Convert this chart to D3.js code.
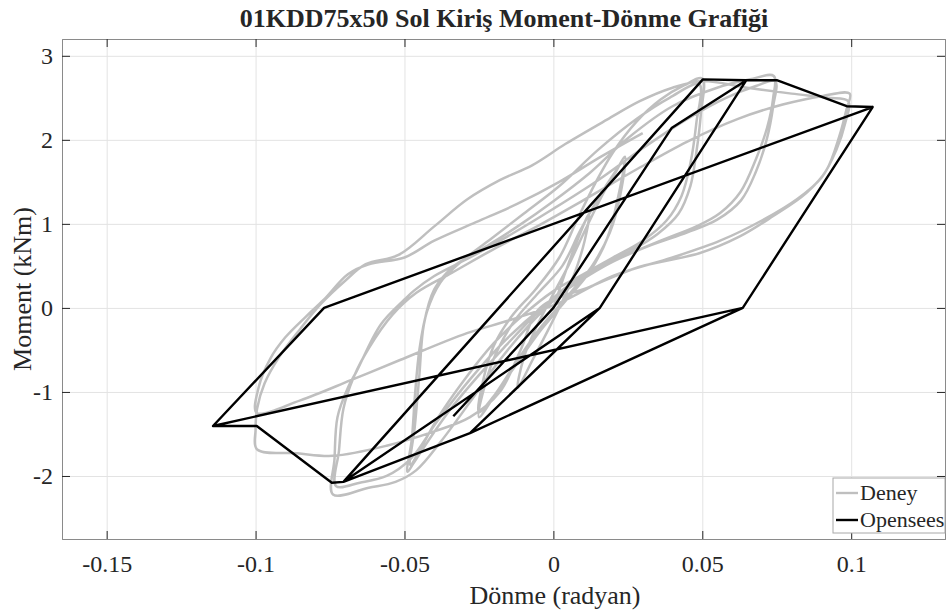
<!DOCTYPE html>
<html>
<head>
<meta charset="utf-8">
<script src="https://cdn.jsdelivr.net/npm/d3@7"></script>
<style>
  body { margin: 0; background: #fff; }
  text { font-family: "Liberation Serif", "Times New Roman", serif; fill: #262626; }
</style>
</head>
<body>
<svg id="chart" width="947" height="610"></svg>
<script>
// axis ticks
var xTicks = [-0.15, -0.1, -0.05, 0, 0.05, 0.1];
var yTicks = [-2, -1, 0, 1, 2, 3];

// Deney (test) curve, one array per cycle, [rotation, moment]
var deney1 = [[0,0],[0.004,0.42],[0.008,0.8],[0.012,1.12],[0.0105,0.8],[0.007,0.4],[0.003,0.08],[-0.002,-0.28],[-0.007,-0.62],[-0.012,-0.95],[-0.010,-0.6],[-0.006,-0.25],[-0.001,0.1]];
var deney2 = [[0.005,0.5],[0.011,0.95],[0.017,1.38],[0.021,1.62],[0.024,1.8],[0.0225,1.35],[0.019,0.9],[0.013,0.5],[0.005,0.15],[-0.004,-0.22],[-0.012,-0.62],[-0.019,-1.0],[-0.025,-1.3],[-0.023,-0.92],[-0.019,-0.52],[-0.013,-0.15],[-0.005,0.18]];
var deney3 = [[0.003,0.5],[0.009,0.92],[0.015,1.3],[0.02,1.58],[0.0235,1.74],[0.0215,1.28],[0.018,0.82],[0.012,0.42],[0.004,0.08],[-0.005,-0.3],[-0.013,-0.7],[-0.02,-1.05],[-0.025,-1.24],[-0.0235,-0.85],[-0.02,-0.45],[-0.014,-0.1],[-0.006,0.22]];
var deney4 = [[0.002,0.6],[0.008,1.05],[0.014,1.48],[0.02,1.85],[0.028,2.22],[0.036,2.48],[0.044,2.65],[0.05,2.73],
  [0.0495,2.3],[0.048,1.85],[0.046,1.45],[0.042,1.12],[0.035,0.88],[0.026,0.68],[0.016,0.5],[0.007,0.32],[0,0.12],[-0.008,-0.15],[-0.016,-0.45],[-0.025,-0.8],[-0.034,-1.18],[-0.042,-1.58],[-0.047,-1.85],[-0.049,-1.95],
  [-0.0475,-1.55],[-0.0465,-1.05],[-0.045,-0.5],[-0.0425,-0.05],[-0.038,0.3],[-0.031,0.55],[-0.021,0.82],[-0.01,1.12],[0.002,1.45],[0.015,1.88],[0.028,2.25],[0.039,2.5],[0.049,2.66]];
var deney5 = [[0.048,2.2],[0.046,1.72],[0.043,1.33],[0.038,1.04],[0.03,0.8],[0.02,0.6],[0.01,0.4],[0,0.2],[-0.01,-0.08],[-0.02,-0.42],[-0.03,-0.86],[-0.039,-1.32],[-0.045,-1.7],[-0.048,-1.87],
  [-0.0465,-1.4],[-0.045,-0.8],[-0.0435,-0.2],[-0.04,0.22],[-0.034,0.48],[-0.024,0.7],[-0.012,0.97],[0,1.27],[0.012,1.6],[0.025,2.02],[0.04,2.4],[0.055,2.62],[0.066,2.72],[0.074,2.76]];
var deney6 = [[0.0738,2.5],[0.0718,2.15],[0.068,1.77],[0.0628,1.38],[0.056,1.13],[0.048,0.97],[0.036,0.8],[0.024,0.62],[0.012,0.42],[0.002,0.15],[-0.008,-0.2],[-0.018,-0.62],[-0.028,-1.12],[-0.038,-1.6],[-0.046,-1.93],[-0.053,-2.07],[-0.062,-2.14],[-0.074,-2.22],
  [-0.0735,-1.8],[-0.0725,-1.3],[-0.069,-0.95],[-0.066,-0.75],[-0.058,-0.2],[-0.05,0.1],[-0.047,0.2],[-0.04,0.38],[-0.028,0.6],[-0.014,0.88],[0,1.18],[0.015,1.52],[0.03,1.9],[0.045,2.25],[0.058,2.5],[0.068,2.64],[0.0745,2.7]];
var deney7 = [[0.0738,2.4],[0.0716,2.0],[0.068,1.62],[0.063,1.28],[0.055,1.05],[0.045,0.9],[0.033,0.75],[0.02,0.55],[0.008,0.3],[-0.004,0.0],[-0.016,-0.38],[-0.028,-0.85],[-0.039,-1.35],[-0.048,-1.8],[-0.056,-2.0],[-0.065,-2.08],[-0.073,-2.12],
  [-0.072,-1.7],[-0.0705,-1.2],[-0.067,-0.82],[-0.062,-0.48],[-0.054,-0.08],[-0.046,0.18],[-0.034,0.42],[-0.02,0.7],[-0.005,0.98],[0.01,1.28],[0.028,1.65],[0.045,1.98],[0.062,2.25],[0.077,2.42],[0.09,2.52],[0.0995,2.55]];
var deney8 = [[0.0984,2.36],[0.096,2.04],[0.0917,1.64],[0.085,1.37],[0.0737,1.09],[0.0626,0.85],[0.049,0.65],[0.029,0.49],[0.0122,0.25],[-0.0045,0.0],[-0.011,-0.5],[-0.018,-1.0],[-0.028,-1.3],[-0.04,-1.47],[-0.056,-1.64],[-0.074,-1.76],[-0.086,-1.73],[-0.0996,-1.68],
  [-0.1,-1.45],[-0.0995,-1.2],[-0.097,-0.9],[-0.092,-0.58],[-0.085,-0.25],[-0.078,0.05],[-0.07,0.32],[-0.063,0.52],[-0.052,0.63],[-0.04,0.97],[-0.029,1.29],[-0.018,1.52],[-0.007,1.7],[0.004,1.95],[0.018,2.24],[0.029,2.46],[0.04,2.62],[0.05,2.7],[0.065,2.62],[0.08,2.55],[0.092,2.5],[0.099,2.46]];
var deney9 = [[0.098,2.2],[0.095,1.88],[0.09,1.55],[0.082,1.3],[0.07,1.04],[0.056,0.8],[0.04,0.6],[0.02,0.38],[0.002,0.06],[-0.015,-0.15],[-0.029,-0.3],[-0.0515,-0.62],[-0.068,-0.86],[-0.085,-1.1],[-0.0996,-1.25],
  [-0.099,-0.95],[-0.095,-0.6],[-0.09,-0.35],[-0.083,-0.1],[-0.077,0.1],[-0.069,0.4],[-0.062,0.52],[-0.05,0.6],[-0.04,0.8],[-0.026,1.02],[-0.012,1.24],[0.002,1.5],[0.016,1.8],[0.03,2.08]];

// Opensees model, [rotation, moment]
var opensees = [[-0.0336,-1.29],[0,0],[0.0397,2.14],[0.0648,2.71],[0.0156,0],[-0.028,-1.49],[0.0156,0],[-0.0705,-2.07],
  [0.0502,2.72],[0.0648,2.71],[0.075,2.71],[0.0985,2.4],[0.1072,2.39],[0.0636,0],[-0.028,-1.49],[-0.0705,-2.07],
  [-0.0744,-2.08],[-0.0996,-1.405],[-0.1143,-1.405],[-0.077,0],[0.1072,2.39],[0.0636,0],[-0.1143,-1.405]];

var legendNames = ["Deney", "Opensees"];
var grayColor = "#bfbfbf";
var blackColor = "#000000";

var margin = { top: 39, right: 2, bottom: 71, left: 62 };
var width = 947 - margin.left - margin.right;
var height = 610 - margin.top - margin.bottom;

var svg = d3.select("#chart");
var g = svg.append("g").attr("transform", "translate(" + margin.left + "," + margin.top + ")");

var x = d3.scaleLinear().domain([-0.165, 0.1315]).range([0, width]);
var y = d3.scaleLinear().domain([-2.75, 3.2]).range([height, 0]);

function fmt(d) { return String(+d.toFixed(2)); }

// grid
g.append("g").attr("class", "grid")
  .attr("transform", "translate(0," + height + ")")
  .call(d3.axisBottom(x).tickValues(xTicks).tickSize(-height).tickFormat(""));
g.append("g").attr("class", "grid")
  .call(d3.axisLeft(y).tickValues(yTicks).tickSize(-width).tickFormat(""));
g.selectAll(".grid .domain").remove();
g.selectAll(".grid line").attr("stroke", "#e3e3e3").attr("stroke-width", 1);

g.append("clipPath").attr("id", "clip").append("rect").attr("width", width).attr("height", height);

var lineSmooth = d3.line()
  .x(function (d) { return x(d[0]); })
  .y(function (d) { return y(d[1]); })
  .curve(d3.curveCatmullRom.alpha(0.5));

var lineStraight = d3.line()
  .x(function (d) { return x(d[0]); })
  .y(function (d) { return y(d[1]); });

var deney = [].concat(deney1, deney2, deney3, deney4, deney5, deney6, deney7, deney8, deney9);

g.append("path")
  .datum(deney)
  .attr("clip-path", "url(#clip)")
  .attr("fill", "none")
  .attr("stroke", grayColor)
  .attr("stroke-width", 2.5)
  .attr("stroke-linejoin", "round")
  .attr("d", lineSmooth);

g.append("path")
  .datum(opensees)
  .attr("clip-path", "url(#clip)")
  .attr("fill", "none")
  .attr("stroke", blackColor)
  .attr("stroke-width", 2.4)
  .attr("stroke-linejoin", "round")
  .attr("d", lineStraight);

// axes with inward ticks on all sides
var tickLen = 8;
g.append("g").attr("class", "axis")
  .attr("transform", "translate(0," + height + ")")
  .call(d3.axisBottom(x).tickValues(xTicks).tickSize(-tickLen).tickPadding(16).tickFormat(fmt));
g.append("g").attr("class", "axis")
  .call(d3.axisLeft(y).tickValues(yTicks).tickSize(-tickLen).tickPadding(9).tickFormat(fmt));
g.append("g").attr("class", "axis")
  .call(d3.axisTop(x).tickValues(xTicks).tickSize(-tickLen).tickFormat(""));
g.append("g").attr("class", "axis")
  .attr("transform", "translate(" + width + ",0)")
  .call(d3.axisRight(y).tickValues(yTicks).tickSize(-tickLen).tickFormat(""));

g.selectAll(".axis .domain").attr("stroke", "#8a8a8a");
g.selectAll(".axis line").attr("stroke", "#262626");
g.selectAll(".axis text")
  .style("font-family", "'Liberation Serif', serif")
  .style("font-size", "24px")
  .attr("fill", "#262626");

// labels
svg.append("text")
  .attr("x", 504).attr("y", 27)
  .attr("text-anchor", "middle")
  .style("font-size", "26px").style("font-weight", "bold")
  .attr("fill", "#000")
  .text("01KDD75x50 Sol Kiriş Moment-Dönme Grafiği");

svg.append("text")
  .attr("x", 555).attr("y", 604)
  .attr("text-anchor", "middle")
  .style("font-size", "26px")
  .text("Dönme (radyan)");

svg.append("text")
  .attr("transform", "translate(31,289) rotate(-90)")
  .attr("text-anchor", "middle")
  .style("font-size", "26px")
  .text("Moment (kNm)");

// legend
var legend = svg.append("g").attr("transform", "translate(833,478)");
legend.append("rect")
  .attr("width", 112).attr("height", 55)
  .attr("fill", "#fff").attr("stroke", "#a8a8a8").attr("stroke-width", 1);
legendNames.forEach(function (name, i) {
  var ly = 15 + i * 27;
  legend.append("line")
    .attr("x1", 3).attr("x2", 25).attr("y1", ly).attr("y2", ly)
    .attr("stroke", i === 0 ? grayColor : blackColor).attr("stroke-width", 2.4);
  legend.append("text")
    .attr("x", 27).attr("y", ly + 7)
    .style("font-size", "22px")
    .attr("fill", "#000")
    .text(name);
});
</script>
</body>
</html>
